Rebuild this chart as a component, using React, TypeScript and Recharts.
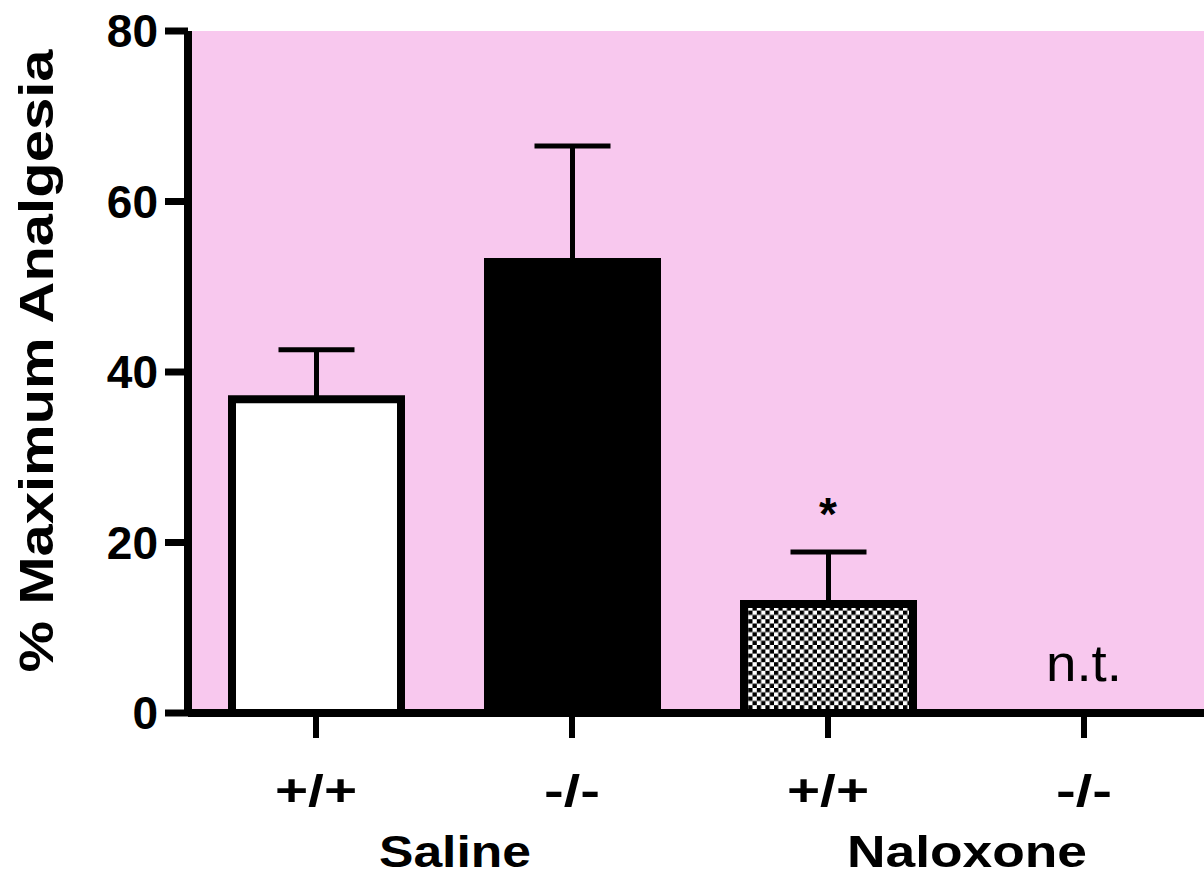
import { BarChart, Bar, XAxis, YAxis, CartesianGrid, Cell, ErrorBar, ReferenceDot } from "recharts";

const CATEGORY_IDS = ["sal-wt", "sal-ko", "nal-wt", "nal-ko"];
const GENOTYPES = ["+/+", "-/-", "+/+", "-/-"];
const TREATMENTS = ["Saline", "Saline", "Naloxone", "Naloxone"];
const MEANS = [36.8, 52.9, 12.8, null];
const SEMS = [5.8, 13.6, 6.1, null];
const Y_TICKS = [0, 20, 40, 60, 80];

const FONT = "'Liberation Sans', Arial, Helvetica, sans-serif";
const PINK = "#f8c8ee";
const BAR_FILLS = ["#ffffff", "#000000", "url(#checker)", "none"];
// measured label widths in the picture, the original font runs wide
const TEXT_WIDTHS: Record<string, number> = { "+/+": 82, "-/-": 56, Saline: 152, Naloxone: 240 };

const data = CATEGORY_IDS.map((id, i) => ({
  id,
  genotype: GENOTYPES[i],
  treatment: TREATMENTS[i],
  mean: MEANS[i],
  err: SEMS[i] == null ? null : [0, SEMS[i]],
}));

function GenotypeTick(props: any) {
  const { x, y, payload } = props;
  const label = GENOTYPES[payload.index] ?? "";
  return (
    <text
      x={x}
      y={y}
      dy={33}
      textAnchor="middle"
      fill="#000"
      fontFamily={FONT}
      fontWeight="bold"
      fontSize={45}
      textLength={TEXT_WIDTHS[label]}
      lengthAdjust="spacingAndGlyphs"
    >
      {label}
    </text>
  );
}

function TreatmentTick(props: any) {
  const { x, y, payload } = props;
  return (
    <text
      x={x + 11}
      y={y}
      dy={44}
      textAnchor="middle"
      fill="#000"
      fontFamily={FONT}
      fontWeight="bold"
      fontSize={44}
      textLength={TEXT_WIDTHS[payload.value]}
      lengthAdjust="spacingAndGlyphs"
    >
      {payload.value}
    </text>
  );
}

function YTitle(props: any) {
  const vb = props.viewBox;
  const cx = vb.x + 53;
  const cy = vb.y + vb.height / 2 - 11;
  return (
    <text
      x={cx}
      y={cy}
      transform={`rotate(-90, ${cx}, ${cy})`}
      textAnchor="middle"
      fill="#000"
      fontFamily={FONT}
      fontWeight="bold"
      fontSize={48}
      textLength={623}
      lengthAdjust="spacingAndGlyphs"
    >
      % Maximum Analgesia
    </text>
  );
}

function Note({ viewBox, text, offset, bold, size, width }: any) {
  const cx = viewBox.x + viewBox.width / 2;
  const cy = viewBox.y + viewBox.height / 2;
  return (
    <text
      x={cx}
      y={cy - offset}
      textAnchor="middle"
      fill="#000"
      fontFamily={FONT}
      fontWeight={bold ? "bold" : "normal"}
      fontSize={size}
      textLength={width}
      lengthAdjust="spacingAndGlyphs"
    >
      {text}
    </text>
  );
}

export default function App() {
  return (
    <div style={{ position: "absolute", left: 0, top: 0, width: 1204, height: 879, overflow: "hidden", background: "#fff" }}>
      <BarChart width={1212} height={879} data={data} margin={{ top: 31, right: 0, bottom: 0, left: 0 }}>
        <defs>
          <pattern id="checker" width="8.6" height="8.6" patternUnits="userSpaceOnUse">
            <rect width="8.6" height="8.6" fill="#fff" />
            <rect width="4.3" height="4.3" fill="#000" />
            <rect x="4.3" y="4.3" width="4.3" height="4.3" fill="#000" />
          </pattern>
        </defs>
        <CartesianGrid fill={PINK} horizontal={false} vertical={false} />
        <XAxis
          dataKey="id"
          height={110}
          axisLine={{ stroke: "#000", strokeWidth: 8 }}
          tickLine={{ stroke: "#000", strokeWidth: 6 }}
          tickSize={25}
          tickMargin={35}
          tick={<GenotypeTick />}
          interval={0}
        />
        <XAxis
          xAxisId="group"
          dataKey="treatment"
          allowDuplicatedCategory={false}
          height={56}
          axisLine={false}
          tickLine={false}
          tickSize={0}
          tickMargin={0}
          tick={<TreatmentTick />}
          interval={0}
        />
        <YAxis
          width={188}
          domain={[0, 80]}
          ticks={Y_TICKS}
          allowDataOverflow
          axisLine={{ stroke: "#000", strokeWidth: 8 }}
          tickLine={{ stroke: "#000", strokeWidth: 7 }}
          tickSize={23}
          tickMargin={7}
          tick={{ fill: "#000", fontFamily: FONT, fontWeight: "bold", fontSize: 46 }}
          label={{ content: (p: any) => <YTitle {...p} /> }}
        />
        <Bar dataKey="mean" barSize={169} stroke="#000" strokeWidth={8} isAnimationActive={false}>
          {data.map((d, i) => (
            <Cell key={d.id} fill={BAR_FILLS[i]} />
          ))}
          <ErrorBar dataKey="err" width={38} stroke="#000" strokeWidth={5} direction="y" isAnimationActive={false} />
        </Bar>
        <ReferenceDot
          x="nal-wt"
          y={(MEANS[2] ?? 0) + (SEMS[2] ?? 0)}
          r={1}
          fill="none"
          stroke="none"
          label={{ content: (p: any) => <Note viewBox={p.viewBox} text="*" offset={22} bold size={46} /> }}
        />
        <ReferenceDot
          x="nal-ko"
          y={0}
          r={1}
          fill="none"
          stroke="none"
          label={{ content: (p: any) => <Note viewBox={p.viewBox} text="n.t." offset={32} size={52} width={76} /> }}
        />
      </BarChart>
    </div>
  );
}
